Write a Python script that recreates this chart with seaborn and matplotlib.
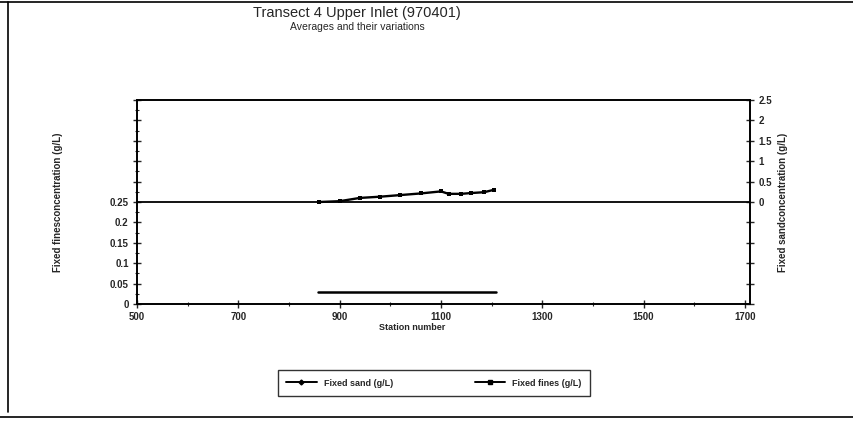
import matplotlib
matplotlib.use("Agg")
import matplotlib.pyplot as plt
from matplotlib.lines import Line2D
from matplotlib.ticker import MultipleLocator, FuncFormatter
import seaborn as sns
import pandas as pd

# Averages along the transect
sand_station = [860, 900, 940, 980, 1020, 1060, 1100, 1115, 1140, 1160, 1185, 1205]
sand_gL = [0.0, 0.02, 0.1, 0.13, 0.17, 0.21, 0.26, 0.2, 0.2, 0.22, 0.24, 0.3]
fines_station = [857, 950, 1050, 1150, 1208]
fines_gL = [0.03, 0.03, 0.03, 0.03, 0.03]

x_ticks = [500, 700, 900, 1100, 1300, 1500, 1700]

sns.set_style("ticks")
plt.rcParams["font.family"] = ["Liberation Sans", "DejaVu Sans"]

fig = plt.figure(figsize=(8.54, 4.21), dpi=100)
ax = fig.add_axes([137 / 854, 1 - 304 / 421, (750 - 137) / 854, (304 - 100) / 421])
ax2 = ax.twinx()

sand_df = pd.DataFrame({"station": sand_station, "sand": sand_gL})
fines_df = pd.DataFrame({"station": fines_station, "fines": fines_gL})

sns.lineplot(data=fines_df, x="station", y="fines", ax=ax, color="black",
             linewidth=1.8, legend=False)
sns.lineplot(data=sand_df, x="station", y="sand", ax=ax2, color="black",
             linewidth=1.7, marker="s", markersize=3.5, markeredgewidth=0,
             legend=False)
ax2.axhline(0, color="black", linewidth=1.3, zorder=1)

# Left axis: fixed fines
ax.set_xlim(500, 1710)
ax.set_ylim(0, 0.5)
ax.set_xticks(x_ticks)
ax.xaxis.set_minor_locator(MultipleLocator(100))
ax.yaxis.set_major_locator(MultipleLocator(0.05))
ax.yaxis.set_minor_locator(MultipleLocator(0.025))
ax.yaxis.set_major_formatter(FuncFormatter(lambda v, p: f"{v:g}" if v <= 0.2501 else ""))
ax.tick_params(axis="both", which="major", direction="inout", length=6, width=1,
               labelsize=7, pad=3)
ax.tick_params(axis="both", which="minor", direction="inout", length=3, width=0.8)
for lab in ax.get_xticklabels() + ax.get_yticklabels():
    lab.set_fontweight("bold")

# Right axis: fixed sand
ax2.set_ylim(-2.5, 2.5)
ax2.yaxis.set_major_locator(MultipleLocator(0.5))
ax2.yaxis.set_major_formatter(FuncFormatter(lambda v, p: f"{v:g}" if v >= -0.001 else ""))
ax2.tick_params(axis="y", which="major", direction="inout", length=6, width=1,
                labelsize=7, pad=3)
for lab in ax2.get_yticklabels():
    lab.set_fontweight("bold")

for a in (ax, ax2):
    for s in a.spines.values():
        s.set_visible(True)
        s.set_linewidth(1.2)
        s.set_color("black")

ax.set_xlabel("Station number", fontsize=6.5, fontweight="bold", labelpad=1)
ax.xaxis.set_label_coords((412 - 137) / (750 - 137), -0.095)
ax.set_ylabel("Fixed finesconcentration (g/L)", fontsize=7, fontweight="bold")
ax.yaxis.set_label_coords((63 - 137) / (750 - 137), 0.5)
ax2.set_ylabel("Fixed sandconcentration (g/L)", fontsize=7, fontweight="bold",
               rotation=90)
ax2.yaxis.set_label_coords((778 - 137) / (750 - 137), 0.5)

fig.text(357 / 854, 1 - 13 / 421, "Transect 4 Upper Inlet (970401)",
         ha="center", va="center", fontsize=10.5)
fig.text(357 / 854, 1 - 27 / 421, "Averages and their variations",
         ha="center", va="center", fontsize=7.5)

handles = [
    Line2D([], [], color="black", linewidth=1.4, marker="D", markersize=2.5),
    Line2D([], [], color="black", linewidth=1.4, marker="s", markersize=3.5),
]
leg = fig.legend(handles, ["Fixed sand (g/L)", "Fixed fines (g/L)"],
                 loc="center", bbox_to_anchor=(434 / 854, 1 - 383 / 421),
                 ncol=2, frameon=True, fancybox=False,
                 handlelength=3.4, columnspacing=9, borderpad=0.9,
                 prop={"weight": "bold", "size": 6.5})
leg.get_frame().set_edgecolor("black")
leg.get_frame().set_linewidth(1.0)

# Page frame lines
fig.add_artist(Line2D([0, 1], [1 - 2 / 421, 1 - 2 / 421], color="black", linewidth=1.2))
fig.add_artist(Line2D([8 / 854, 8 / 854], [1 - 2 / 421, 1 - 412 / 421], color="black", linewidth=1.2))
fig.add_artist(Line2D([0, 1], [1 - 417 / 421, 1 - 417 / 421], color="black", linewidth=1.2))

fig.savefig("out.png", dpi=100)
